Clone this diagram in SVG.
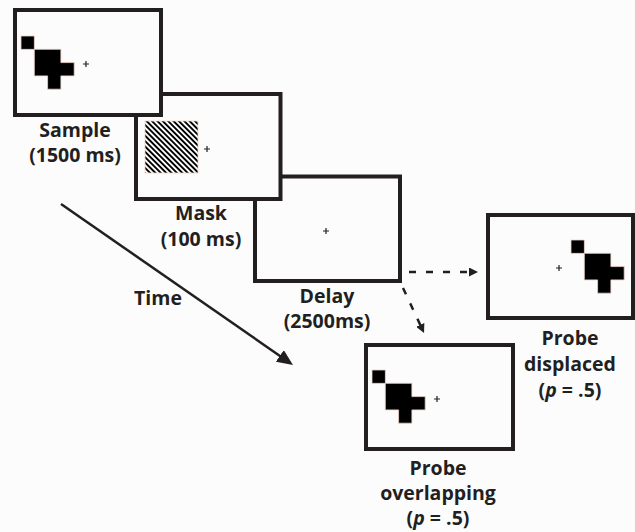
<svg xmlns="http://www.w3.org/2000/svg" width="635" height="532" viewBox="0 0 635 532">
  <style>
    .frame { fill: #fcfcfd; stroke: #231f20; stroke-width: 4; }
    .lbl { font-family: "Open Sans", "Liberation Sans", sans-serif; font-weight: 700; font-size: 19.5px; fill: #231f20; text-anchor: middle; }
    .plus { stroke: #231f20; stroke-width: 1.2; fill: none; }
    .blob { fill: #000; stroke: #efd2c6; stroke-width: 0.8; }
    .dash { stroke: #231f20; stroke-width: 2.5; stroke-dasharray: 7 10; fill: none; }
    .solid { stroke: #231f20; stroke-width: 2.5; fill: none; }
  </style>
  <defs>
    <pattern id="hatch" patternUnits="userSpaceOnUse" width="3.8" height="3.8" patternTransform="rotate(45)">
      <rect x="0" y="0" width="3.8" height="1.9" fill="#000"/>
    </pattern>
    <g id="shape" class="blob">
      <rect x="0" y="0" width="13.3" height="13.3"/>
      <path d="M13.3,13.3 H39.9 V26.6 H53.2 V39.9 H39.9 V53.2 H26.6 V39.9 H13.3 Z"/>
    </g>
    <path id="plus" class="plus" d="M-3,0 H3 M0,-3 V3"/>
    <marker id="bighead" markerUnits="userSpaceOnUse" viewBox="0 0 16 14" markerWidth="16" markerHeight="14" refX="12" refY="7" orient="auto">
      <path d="M0,0 L16,7 L0,14 Z" fill="#231f20"/>
    </marker>
    <marker id="smallhead" markerUnits="userSpaceOnUse" viewBox="0 0 9 9" markerWidth="9" markerHeight="9" refX="7" refY="4.5" orient="auto">
      <path d="M0,0 L9,4.5 L0,9 Z" fill="#231f20"/>
    </marker>
  </defs>

  <rect x="0" y="0" width="635" height="532" fill="#fcfcfd"/>

  <g id="delay">
    <rect class="frame" x="255" y="176.5" width="145" height="104.5"/>
    <use href="#plus" x="326" y="231"/>
    <text class="lbl" x="327" y="303">Delay</text>
    <text class="lbl" x="327" y="328">(2500ms)</text>
  </g>

  <g id="mask">
    <rect class="frame" x="136" y="94" width="144.5" height="105"/>
    <rect x="145" y="121" width="53" height="52" fill="url(#hatch)" stroke="#efd2c6" stroke-width="0.8"/>
    <use href="#plus" x="207" y="149"/>
    <text class="lbl" x="201" y="220">Mask</text>
    <text class="lbl" x="201" y="246">(100 ms)</text>
  </g>

  <g id="sample">
    <rect class="frame" x="15" y="10" width="146" height="105"/>
    <use href="#shape" x="21" y="36"/>
    <use href="#plus" x="86" y="64"/>
    <text class="lbl" x="75" y="137">Sample</text>
    <text class="lbl" x="75" y="162">(1500 ms)</text>
  </g>

  <g id="probe-displaced">
    <rect class="frame" x="488" y="215" width="145" height="103"/>
    <use href="#shape" x="571" y="240"/>
    <use href="#plus" x="559" y="268"/>
    <text class="lbl" x="570" y="345">Probe</text>
    <text class="lbl" x="570" y="371">displaced</text>
    <text class="lbl" x="570" y="397">(<tspan font-style="italic">p</tspan> = .5)</text>
  </g>

  <g id="probe-overlapping">
    <rect class="frame" x="366" y="345" width="147" height="104"/>
    <use href="#shape" x="372" y="370"/>
    <use href="#plus" x="437" y="399"/>
    <text class="lbl" x="438" y="475">Probe</text>
    <text class="lbl" x="438" y="500">overlapping</text>
    <text class="lbl" x="438" y="525">(<tspan font-style="italic">p</tspan> = .5)</text>
  </g>

  <g id="time-label">
    <text class="lbl" x="158" y="305">Time</text>
  </g>

  <g id="connectors">
    <line class="solid" x1="61" y1="204" x2="289.7" y2="362.7" marker-end="url(#bighead)"/>
    <line class="dash" x1="409" y1="272" x2="476" y2="272" marker-end="url(#smallhead)"/>
    <line class="dash" x1="403" y1="288" x2="423.2" y2="331.2" marker-end="url(#smallhead)"/>
  </g>
</svg>
